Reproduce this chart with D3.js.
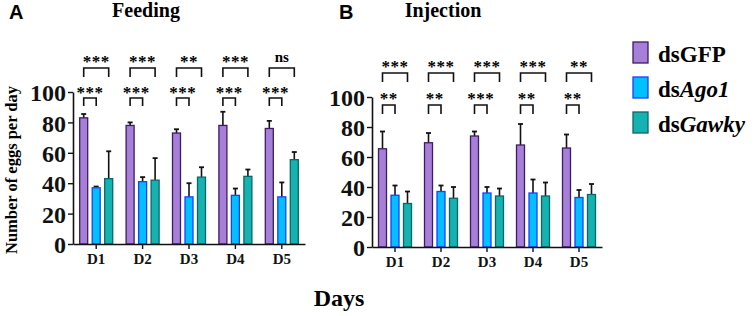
<!DOCTYPE html>
<html>
<head>
<meta charset="utf-8">
<script src="https://cdn.jsdelivr.net/npm/d3@7"></script>
<style>
  body { margin: 0; background: #fff; }
  svg { display: block; }
  .serif { font-family: "Liberation Serif", "Times New Roman", serif; font-weight: bold; }
</style>
</head>
<body>
<div id="chart"></div>
<script>
var days = ["D1", "D2", "D3", "D4", "D5"];
var series = ["dsGFP", "dsAgo1", "dsGawky"];
var yTicks = [0, 20, 40, 60, 80, 100];

// Feeding (panel A)
var feedingGFP = [83, 78, 73, 78, 76];
var feedingGFPsd = [2.5, 2, 2.5, 9, 5];
var feedingAgo1 = [37, 41, 31, 32, 31];
var feedingAgo1sd = [0.8, 3, 9, 4.5, 9.5];
var feedingGawky = [43, 42, 44, 44.5, 55.5];
var feedingGawkysd = [18, 14.5, 6.5, 4.5, 5];
var feedingSigAgo1 = ["***", "***", "***", "***", "***"];
var feedingSigGawky = ["***", "***", "**", "***", "ns"];

// Injection (panel B)
var injectionGFP = [65.5, 69.5, 74, 68, 66];
var injectionGFPsd = [11.5, 6.5, 3, 14, 9];
var injectionAgo1 = [34.5, 37, 36, 36, 33];
var injectionAgo1sd = [6.5, 4, 4, 9, 5];
var injectionGawky = [29, 32.5, 34, 34, 35];
var injectionGawkysd = [8, 7.5, 5, 9, 7];
var injectionSigAgo1 = ["**", "**", "***", "**", "**"];
var injectionSigGawky = ["***", "***", "***", "***", "**"];

var fills = ["#a77fd8", "#00c0ff", "#14b2b0"];
var strokes = ["#3b1d60", "#1f3cff", "#0b6767"];

var svg = d3.select("#chart").append("svg")
  .attr("width", 754)
  .attr("height", 316);

var drawPanel = function(opt) {
  var x = d3.scaleBand().domain(days).range([opt.left, opt.right]);
  var sub = d3.scalePoint().domain(series).range([-12.5, 12.5]);
  var y = d3.scaleLinear().domain([0, 100]).range([opt.bottom, opt.top]);
  var barW = 8;

  var g = svg.append("g");

  var rows = days.map(function(d, i) {
    return {
      day: d,
      bars: [
        { s: series[0], v: opt.gfp[i], sd: opt.gfpSd[i], k: 0 },
        { s: series[1], v: opt.ago[i], sd: opt.agoSd[i], k: 1 },
        { s: series[2], v: opt.gaw[i], sd: opt.gawSd[i], k: 2 }
      ],
      sigAgo: opt.sigAgo[i],
      sigGaw: opt.sigGaw[i]
    };
  });

  var groups = g.selectAll(".grp")
    .data(rows)
    .enter().append("g")
    .attr("class", "grp")
    .attr("transform", function(d) {
      return "translate(" + (x(d.day) + x.bandwidth() / 2) + ",0)";
    });

  // error bars (drawn first so the bar covers the lower part)
  var eb = groups.selectAll(".err")
    .data(function(d) { return d.bars; })
    .enter().append("g").attr("class", "err");
  eb.append("line")
    .attr("x1", function(d) { return sub(d.s); })
    .attr("x2", function(d) { return sub(d.s); })
    .attr("y1", function(d) { return y(d.v); })
    .attr("y2", function(d) { return y(d.v + d.sd); })
    .attr("stroke", "#111").attr("stroke-width", 1.6);
  eb.append("line")
    .attr("x1", function(d) { return sub(d.s) - 2.5; })
    .attr("x2", function(d) { return sub(d.s) + 2.5; })
    .attr("y1", function(d) { return y(d.v + d.sd); })
    .attr("y2", function(d) { return y(d.v + d.sd); })
    .attr("stroke", "#111").attr("stroke-width", 1.8);

  groups.selectAll("rect")
    .data(function(d) { return d.bars; })
    .enter().append("rect")
    .attr("x", function(d) { return sub(d.s) - barW / 2; })
    .attr("y", function(d) { return y(d.v); })
    .attr("width", barW)
    .attr("height", function(d) { return y(0) - y(d.v); })
    .attr("fill", function(d) { return fills[d.k]; })
    .attr("stroke", function(d) { return strokes[d.k]; })
    .attr("stroke-width", 1.3);

  // significance brackets
  var gfpX = sub(series[0]), agoX = sub(series[1]), gawX = sub(series[2]);
  groups.append("path")
    .attr("d", "M" + gfpX + "," + opt.upLeg + "V" + opt.upY + "H" + gawX + "V" + opt.upLeg)
    .attr("fill", "none").attr("stroke", "#111").attr("stroke-width", 1.6);
  groups.append("path")
    .attr("d", "M" + gfpX + "," + opt.loLeg + "V" + opt.loY + "H" + agoX + "V" + opt.loLeg)
    .attr("fill", "none").attr("stroke", "#111").attr("stroke-width", 1.6);

  groups.append("text")
    .attr("class", "serif")
    .attr("x", (gfpX + gawX) / 2)
    .attr("y", function(d) { return d.sigGaw === "ns" ? opt.upText - 4 : opt.upText + 1; })
    .attr("text-anchor", "middle")
    .style("font-size", function(d) { return d.sigGaw === "ns" ? "15px" : "17px"; })
    .style("letter-spacing", function(d) { return d.sigGaw === "ns" ? "0px" : "0.5px"; })
    .text(function(d) { return d.sigGaw; });
  groups.append("text")
    .attr("class", "serif")
    .attr("x", (gfpX + agoX) / 2)
    .attr("y", opt.loText + 1)
    .attr("text-anchor", "middle")
    .style("font-size", "17px")
    .style("letter-spacing", "0.5px")
    .text(function(d) { return d.sigAgo; });

  // axes
  var yAxis = g.append("g")
    .attr("transform", "translate(" + opt.left + ",0)")
    .call(d3.axisLeft(y).tickValues(yTicks).tickSizeInner(5).tickSizeOuter(0).tickPadding(2));
  yAxis.selectAll("text")
    .attr("class", "serif")
    .style("font-size", "24px")
    .attr("dy", "0.36em");

  var xAxis = g.append("g")
    .attr("transform", "translate(0," + opt.bottom + ")")
    .call(d3.axisBottom(x).tickSizeInner(5).tickSizeOuter(0).tickPadding(4));
  xAxis.selectAll("text")
    .attr("class", "serif")
    .style("font-size", "15px");

  [yAxis, xAxis].forEach(function(a) {
    a.select(".domain").attr("stroke", "#111").attr("stroke-width", 1.6);
    a.selectAll(".tick line").attr("stroke", "#111").attr("stroke-width", 1.4);
    a.selectAll(".tick text").attr("fill", "#111");
  });

  // panel letter + title
  svg.append("text")
    .attr("x", opt.letterX).attr("y", 19)
    .style("font-family", "'Liberation Sans', Arial, sans-serif")
    .style("font-weight", "bold")
    .style("font-size", "20px")
    .text(opt.letter);
  svg.append("text")
    .attr("class", "serif")
    .attr("x", opt.titleX).attr("y", 17)
    .attr("text-anchor", "middle")
    .style("font-size", "20px")
    .text(opt.title);
};

drawPanel({
  left: 73, right: 305, top: 92, bottom: 244,
  gfp: feedingGFP, gfpSd: feedingGFPsd,
  ago: feedingAgo1, agoSd: feedingAgo1sd,
  gaw: feedingGawky, gawSd: feedingGawkysd,
  sigAgo: feedingSigAgo1, sigGaw: feedingSigGawky,
  upText: 66, upY: 68, upLeg: 77,
  loText: 97, loY: 98, loLeg: 106,
  letter: "A", letterX: 9, title: "Feeding", titleX: 146
});

drawPanel({
  left: 372, right: 602, top: 97, bottom: 247,
  gfp: injectionGFP, gfpSd: injectionGFPsd,
  ago: injectionAgo1, agoSd: injectionAgo1sd,
  gaw: injectionGawky, gawSd: injectionGawkysd,
  sigAgo: injectionSigAgo1, sigGaw: injectionSigGawky,
  upText: 71, upY: 73, upLeg: 82,
  loText: 103, loY: 105, loLeg: 114,
  letter: "B", letterX: 339, title: "Injection", titleX: 443
});

// y axis title
svg.append("text")
  .attr("class", "serif")
  .attr("transform", "translate(17,170) rotate(-90)")
  .attr("text-anchor", "middle")
  .style("font-size", "16.5px")
  .text("Number of eggs per day");

// x axis title
svg.append("text")
  .attr("class", "serif")
  .attr("x", 339).attr("y", 306)
  .attr("text-anchor", "middle")
  .style("font-size", "24px")
  .text("Days");

// legend
var legendNames = [
  { plain: "ds", rest: "GFP", italic: false },
  { plain: "ds", rest: "Ago1", italic: true },
  { plain: "ds", rest: "Gawky", italic: true }
];
var legend = svg.append("g").attr("transform", "translate(633,42)");
var items = legend.selectAll("g")
  .data(legendNames)
  .enter().append("g")
  .attr("transform", function(d, i) { return "translate(0," + (i * 35) + ")"; });
items.append("rect")
  .attr("width", 15).attr("height", 21)
  .attr("fill", function(d, i) { return fills[i]; })
  .attr("stroke", function(d, i) { return strokes[i]; })
  .attr("stroke-width", 1.3);
var lt = items.append("text")
  .attr("class", "serif")
  .attr("x", 25).attr("y", 19.5)
  .style("font-size", "23px");
lt.append("tspan").text(function(d) { return d.plain; });
lt.append("tspan")
  .style("font-style", function(d) { return d.italic ? "italic" : "normal"; })
  .text(function(d) { return d.rest; });
</script>
</body>
</html>
